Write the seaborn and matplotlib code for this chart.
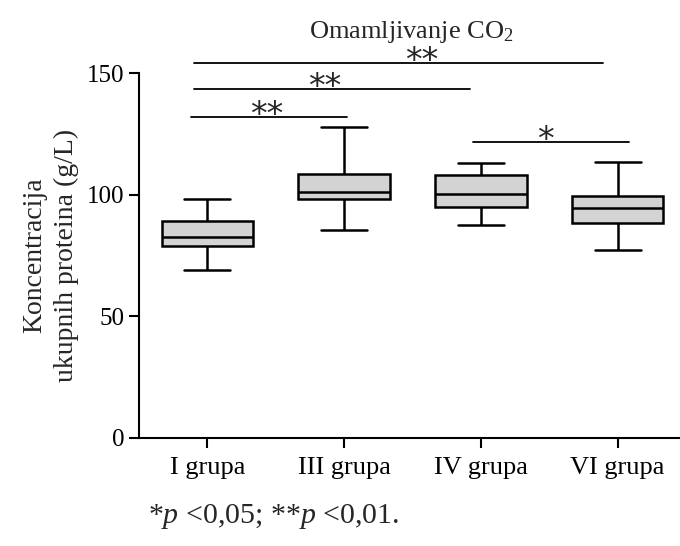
import numpy as np
import pandas as pd
import matplotlib
matplotlib.use("Agg")
import matplotlib.pyplot as plt
import seaborn as sns

# grupe i vrijednosti (min, Q1, medijana, Q3, max) ocitane sa slike
grupe = ["I grupa", "III grupa", "IV grupa", "VI grupa"]
grupa_I = [69.0, 78.9, 82.6, 89.2, 98.1]
grupa_III = [85.3, 98.4, 101.0, 108.5, 127.9]
grupa_IV = [87.5, 94.8, 100.3, 108.0, 113.0]
grupa_VI = [77.1, 88.4, 94.7, 99.5, 113.4]

# oznake znacajnosti: od grupe, do grupe, visina, tekst
sig_od = [-0.1, -0.1, -0.12, 1.94]
sig_do = [2.89, 1.92, 1.02, 3.08]
sig_y = [154.1, 143.4, 132.0, 121.8]
sig_txt_x = [1.57, 0.86, 0.43, 2.47]
sig_txt = ["**", "**", "**", "*"]

df = pd.DataFrame({
    "grupa": np.repeat(grupe, 5),
    "vrijednost": grupa_I + grupa_III + grupa_IV + grupa_VI,
})

sns.set_theme(style="ticks")
plt.rcParams["font.family"] = ["Liberation Serif", "DejaVu Serif"]
plt.rcParams["mathtext.fontset"] = "custom"
plt.rcParams["mathtext.rm"] = "Liberation Serif"
plt.rcParams["mathtext.it"] = "Liberation Serif:italic"

fig = plt.figure(figsize=(6.8, 5.46), dpi=100)
ax = fig.add_axes([139 / 680, 1 - 438 / 546, (680 - 139) / 680, (438 - 73) / 546])

sns.boxplot(data=df, x="grupa", y="vrijednost", order=grupe, whis=(0, 100),
            width=0.67, color="#d3d3d3", linecolor="black", linewidth=1.8,
            saturation=1, ax=ax)

ax.set_xlim(-0.5, 3.456)
ax.set_ylim(0, 150)
ax.set_yticks([0, 50, 100, 150])
ax.set_xlabel("")
ax.set_ylabel("Koncentracija\nukupnih proteina (g/L)", fontsize=20, labelpad=6,
              linespacing=1.3)
ax.tick_params(axis="both", length=7, width=1.5, color="black", labelsize=18,
               labelcolor="black")
ax.tick_params(axis="x", labelsize=19, pad=7)
for s in ["top", "right"]:
    ax.spines[s].set_visible(False)
for s in ["left", "bottom"]:
    ax.spines[s].set_linewidth(1.5)
    ax.spines[s].set_color("black")

for x0, x1, y, xt, t in zip(sig_od, sig_do, sig_y, sig_txt_x, sig_txt):
    ax.plot([x0, x1], [y, y], color="black", lw=1.3, clip_on=False)
    ax.annotate(t, xy=(xt, y), xytext=(0, -6), textcoords="offset points",
                ha="center", va="baseline", fontsize=24, family="DejaVu Sans",
                annotation_clip=False)

fig.text(411 / 680, 1 - 38 / 546, "Omamljivanje CO$_2$", ha="center",
         va="baseline", fontsize=19)
fig.text(148 / 680, 1 - 523 / 546, "*$p$ <0,05; **$p$ <0,01.", ha="left",
         va="baseline", fontsize=21.5)

fig.savefig("out.png", dpi=100)
